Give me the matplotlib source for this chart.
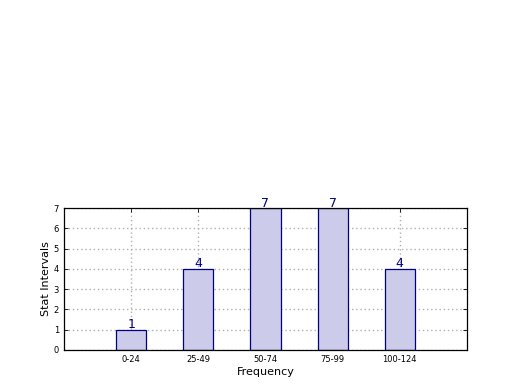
import numpy as np
import matplotlib
matplotlib.use("Agg")
import matplotlib.pyplot as plt

# data
intervals = ["0-24", "25-49", "50-74", "75-99", "100-124"]
counts = [1, 4, 7, 7, 4]

fig = plt.figure(figsize=(5.2, 3.9), dpi=100)
ax = fig.add_axes([0.123, 0.1026, 0.775, 0.364])

x = np.arange(len(intervals))
ax.bar(x, counts, width=0.45, color="#ccccea", edgecolor="#000080", lw=0.9,
       zorder=2)
for xi, c in zip(x, counts):
    ax.text(xi, c - 0.08, str(c), ha="center", va="bottom", color="#000080",
            fontsize=9, zorder=3)

ax.set_xlim(-1, 5)
ax.set_ylim(0, 7)
ax.set_xticks(x)
ax.set_xticklabels(intervals, fontsize=6)
ax.set_yticks(range(8))
ax.tick_params(axis="y", labelsize=6)
ax.tick_params(direction="in", top=True, right=True, length=3, width=0.6)
ax.grid(True, ls=(0, (1, 2)), color="#b0b0b0", lw=1.0, zorder=1)
ax.set_axisbelow(True)
for s in ax.spines.values():
    s.set_linewidth(0.9)

ax.set_xlabel("Frequency", fontsize=8, labelpad=2)
ax.set_ylabel("Stat Intervals", fontsize=8, labelpad=2)

fig.savefig("out.png", dpi=100)
